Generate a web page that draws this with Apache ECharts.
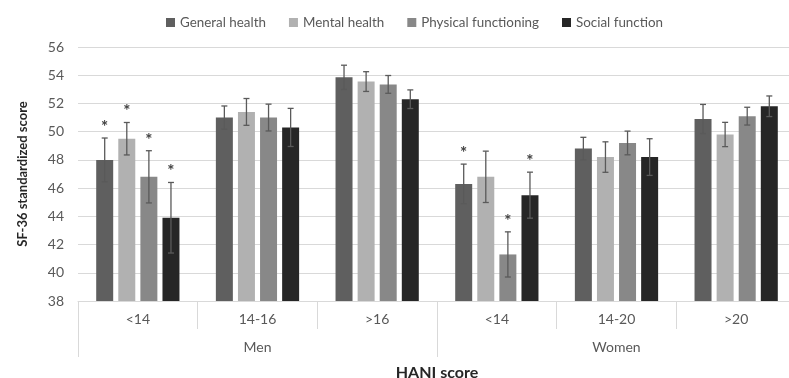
<!DOCTYPE html>
<html>
<head>
<meta charset="utf-8">
<script src="https://cdn.jsdelivr.net/npm/echarts@6/dist/echarts.min.js"></script>
<style>
  html, body { margin: 0; padding: 0; background: #ffffff; }
  #chart { width: 789px; height: 378px; }
</style>
</head>
<body>
<div id="chart"></div>
<script>
// HANI score groups and sexes
const categories = ['<14', '14-16', '>16', '<14', '14-20', '>20'];
const sexes = ['Men', 'Women'];
const seriesNames = ['General health', 'Mental health', 'Physical functioning', 'Social function'];
const yTicks = { min: 38, max: 56, step: 2 };

// Mean SF-36 standardized scores
const generalHealth = [48.0, 51.0, 53.85, 46.3, 48.8, 50.9];
const mentalHealth = [49.5, 51.4, 53.55, 46.8, 48.2, 49.8];
const physicalFunctioning = [46.8, 51.0, 53.35, 41.3, 49.2, 51.1];
const socialFunction = [43.9, 50.3, 52.3, 45.5, 48.2, 51.8];

// Half-widths of the error bars
const generalHealthErr = [1.55, 0.82, 0.86, 1.4, 0.8, 1.03];
const mentalHealthErr = [1.15, 0.95, 0.7, 1.82, 1.08, 0.86];
const physicalFunctioningErr = [1.85, 0.95, 0.63, 1.6, 0.84, 0.63];
const socialFunctionErr = [2.5, 1.35, 0.66, 1.63, 1.3, 0.73];

// Significance markers (1 = starred)
const generalHealthSig = [1, 0, 0, 1, 0, 0];
const mentalHealthSig = [1, 0, 0, 0, 0, 0];
const physicalFunctioningSig = [1, 0, 0, 1, 0, 0];
const socialFunctionSig = [1, 0, 0, 1, 0, 0];

const colors = ['#5f5f5f', '#b1b1b1', '#888888', '#262626'];
const values = [generalHealth, mentalHealth, physicalFunctioning, socialFunction];
const errors = [generalHealthErr, mentalHealthErr, physicalFunctioningErr, socialFunctionErr];
const sigs = [generalHealthSig, mentalHealthSig, physicalFunctioningSig, socialFunctionSig];

const FONT = 'Lato, "Open Sans", sans-serif';
const TEXT = '#595959';
const GRIDLINE = '#d9d9d9';
const BAR_RATIO = 0.142;   // bar width as a share of the category width
const GAP_RATIO = 0.30;    // gap between bars as a share of the bar width

const chart = echarts.init(document.getElementById('chart'), null, { renderer: 'canvas' });

function errorSeries(idx) {
  const data = values[idx].map((v, i) => [i, v, errors[idx][i], sigs[idx][i]]);
  return {
    type: 'custom',
    name: seriesNames[idx] + ' error',
    xAxisIndex: 0,
    yAxisIndex: 0,
    z: 5,
    silent: true,
    data: data,
    renderItem: function (params, api) {
      const i = api.value(0);
      const v = api.value(1);
      const e = api.value(2);
      const s = api.value(3);
      const catW = api.size([1, 0])[0];
      const bw = catW * BAR_RATIO;
      const step = bw * (1 + GAP_RATIO);
      const base = api.coord([i, v]);
      const x = base[0] + (idx - 1.5) * step;
      const top = api.coord([i, v + e])[1];
      const bot = api.coord([i, v - e])[1];
      const cap = 3;
      const style = { stroke: '#5a5a5a', lineWidth: 1.3 };
      const children = [
        { type: 'line', shape: { x1: x, y1: top, x2: x, y2: bot }, style: style },
        { type: 'line', shape: { x1: x - cap, y1: top, x2: x + cap, y2: top }, style: style },
        { type: 'line', shape: { x1: x - cap, y1: bot, x2: x + cap, y2: bot }, style: style }
      ];
      if (s) {
        children.push({
          type: 'text',
          style: {
            x: x, y: top - 2, text: '*',
            textAlign: 'center', textVerticalAlign: 'bottom',
            font: 'bold 17px ' + FONT, fill: '#404040'
          }
        });
      }
      return { type: 'group', children: children };
    }
  };
}

const barSeries = seriesNames.map((name, idx) => ({
  type: 'bar',
  name: name,
  xAxisIndex: 0,
  yAxisIndex: 0,
  data: values[idx],
  barWidth: (BAR_RATIO * 100) + '%',
  barGap: (GAP_RATIO * 100) + '%',
  itemStyle: { color: colors[idx] },
  emphasis: { disabled: true }
}));

const option = {
  animation: false,
  backgroundColor: '#ffffff',
  color: colors,
  textStyle: { fontFamily: FONT },
  legend: {
    data: seriesNames,
    top: 11,
    left: 161,
    itemWidth: 9,
    itemHeight: 9,
    itemGap: 23,
    icon: 'rect',
    textStyle: { color: TEXT, fontSize: 13.4, fontFamily: FONT }
  },
  grid: { left: 78, top: 47, width: 718, height: 254, outerBoundsMode: 'none', containLabel: false },
  xAxis: [
    {
      type: 'category',
      data: categories,
      position: 'bottom',
      axisLine: { show: true, lineStyle: { color: GRIDLINE, width: 1 } },
      axisTick: { show: true, length: 28, interval: 0, lineStyle: { color: GRIDLINE } },
      axisLabel: { color: TEXT, fontSize: 14, margin: 11, interval: 0, fontFamily: FONT },
      splitLine: { show: false }
    },
    {
      type: 'category',
      data: sexes,
      position: 'bottom',
      gridIndex: 0,
      axisLine: { show: false },
      axisTick: { show: true, length: 56, interval: 0, lineStyle: { color: GRIDLINE } },
      axisLabel: { color: TEXT, fontSize: 14, margin: 39, interval: 0, fontFamily: FONT },
      splitLine: { show: false },
      name: 'HANI score',
      nameLocation: 'middle',
      nameGap: 64,
      nameTextStyle: { color: '#262626', fontSize: 16, fontWeight: 'bold', fontFamily: FONT }
    }
  ],
  yAxis: {
    type: 'value',
    min: yTicks.min,
    max: yTicks.max,
    interval: yTicks.step,
    axisLine: { show: false },
    axisTick: { show: false },
    axisLabel: { color: TEXT, fontSize: 14, margin: 14, fontFamily: FONT },
    splitLine: { lineStyle: { color: GRIDLINE, width: 1 } },
    name: 'SF-36 standardized score',
    nameLocation: 'middle',
    nameGap: 49,
    nameTextStyle: { color: '#262626', fontSize: 13, fontWeight: 'bold', fontFamily: FONT }
  },
  series: barSeries.concat(seriesNames.map((n, idx) => errorSeries(idx)))
};

chart.setOption(option);
</script>
</body>
</html>
